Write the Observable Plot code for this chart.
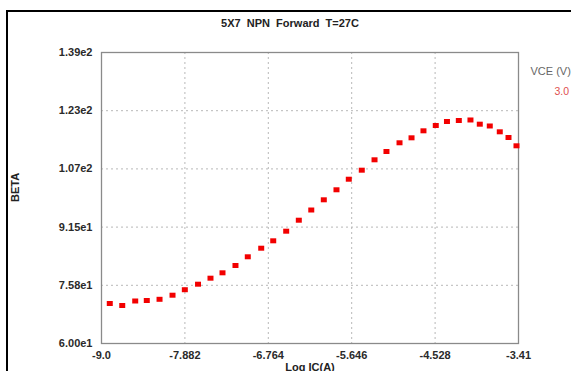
<!DOCTYPE html>
<html>
<head>
<meta charset="utf-8">
<script src="https://cdn.jsdelivr.net/npm/d3@7"></script>
<script src="https://cdn.jsdelivr.net/npm/@observablehq/plot@0.6"></script>
<style>
  html, body { margin: 0; padding: 0; background: #fff; }
  #wrap { position: relative; width: 571px; height: 371px; overflow: hidden; }
  #border { position: absolute; left: 6px; top: 10px; width: 600px; height: 400px;
            border-left: 2px solid #000; border-top: 2px solid #000; pointer-events: none; }
</style>
</head>
<body>
<div id="wrap"><div id="border"></div></div>
<script>
const title = "5X7  NPN  Forward  T=27C";
const xLabel = "Log IC(A)";
const yLabel = "BETA";
const legendTitle = "VCE (V)";
const legendValue = "3.0";

const xTicks = [-9.0, -7.882, -6.764, -5.646, -4.528, -3.41];
const xTickLabels = ["-9.0", "-7.882", "-6.764", "-5.646", "-4.528", "-3.41"];
const yTicks = [60, 75.8, 91.6, 107.4, 123.2, 139];
const yTickLabels = ["6.00e1", "7.58e1", "9.15e1", "1.07e2", "1.23e2", "1.39e2"];

const logIC = [-8.889, -8.722, -8.548, -8.393, -8.222, -8.048, -7.883, -7.706, -7.539, -7.378,
               -7.204, -7.039, -6.859, -6.698, -6.524, -6.355, -6.188, -6.020, -5.850, -5.685,
               -5.511, -5.340, -5.180, -5.005, -4.844, -4.684, -4.519, -4.369, -4.210, -4.054,
               -3.929, -3.795, -3.661, -3.544, -3.437];
const beta = [70.86, 70.32, 71.54, 71.67, 72.00, 73.11, 74.60, 76.10, 77.73, 79.19,
              81.18, 83.54, 85.87, 87.88, 90.49, 93.47, 96.24, 99.01, 101.73, 104.60,
              107.05, 109.87, 112.12, 114.49, 115.84, 117.74, 119.18, 120.27, 120.54, 120.68,
              119.54, 119.05, 117.47, 115.93, 113.67];

const data = logIC.map((x, i) => ({x, y: beta[i]}));

const rectSymbol = { draw(ctx) { ctx.rect(-3, -2.5, 6, 5); } };

const font = "'Liberation Sans', Arial, sans-serif";

const chart = Plot.plot({
  width: 571,
  height: 371,
  marginLeft: 101,
  marginRight: 53,
  marginTop: 52,
  marginBottom: 28,
  style: { fontFamily: font, background: "transparent", overflow: "visible" },
  x: { domain: [-9.0, -3.41], ticks: xTicks, label: null },
  y: { domain: [60, 139], ticks: yTicks, label: null },
  marks: [
    Plot.gridX(xTicks, { stroke: "#b8b8b8", strokeOpacity: 1, strokeDasharray: "2,3" }),
    Plot.gridY(yTicks, { stroke: "#b8b8b8", strokeOpacity: 1, strokeDasharray: "2,3" }),
    Plot.frame({ stroke: "#8a8a8a", strokeWidth: 1.3 }),
    Plot.axisX(xTicks, { tickSize: 0, tickPadding: 8, fontSize: 11, fontWeight: "bold", fill: "#2a2a2a",
      tickFormat: (d) => xTickLabels[xTicks.indexOf(d)], label: null }),
    Plot.axisY(yTicks, { tickSize: 0, tickPadding: 9, fontSize: 11, fontWeight: "bold", fill: "#2a2a2a",
      tickFormat: (d) => yTickLabels[yTicks.indexOf(d)], label: null }),
    Plot.dot(data, { x: "x", y: "y", symbol: rectSymbol, fill: "#f20000", stroke: null }),
    Plot.text([title], { frameAnchor: "top", dx: -20, dy: -33, fontSize: 11, fill: "#222", fontWeight: "bold" }),
    Plot.text([yLabel], { frameAnchor: "left", dx: -86, dy: 4, rotate: -90, fontSize: 11, fill: "#222", fontWeight: "bold" }),
    Plot.text([xLabel], { frameAnchor: "bottom", dy: 27, fontSize: 11, fill: "#222", fontWeight: "bold" }),
    Plot.text([legendTitle], { frameAnchor: "top-right", dx: 12, dy: 15, textAnchor: "start", fontSize: 11, fill: "#666" }),
    Plot.text([legendValue], { frameAnchor: "top-right", dx: 36, dy: 35, textAnchor: "start", fontSize: 10.5, fill: "#e05050" })
  ]
});
chart.style.position = "absolute";
chart.style.left = "0";
chart.style.top = "0";
document.getElementById("wrap").insertBefore(chart, document.getElementById("border"));
</script>
</body>
</html>
